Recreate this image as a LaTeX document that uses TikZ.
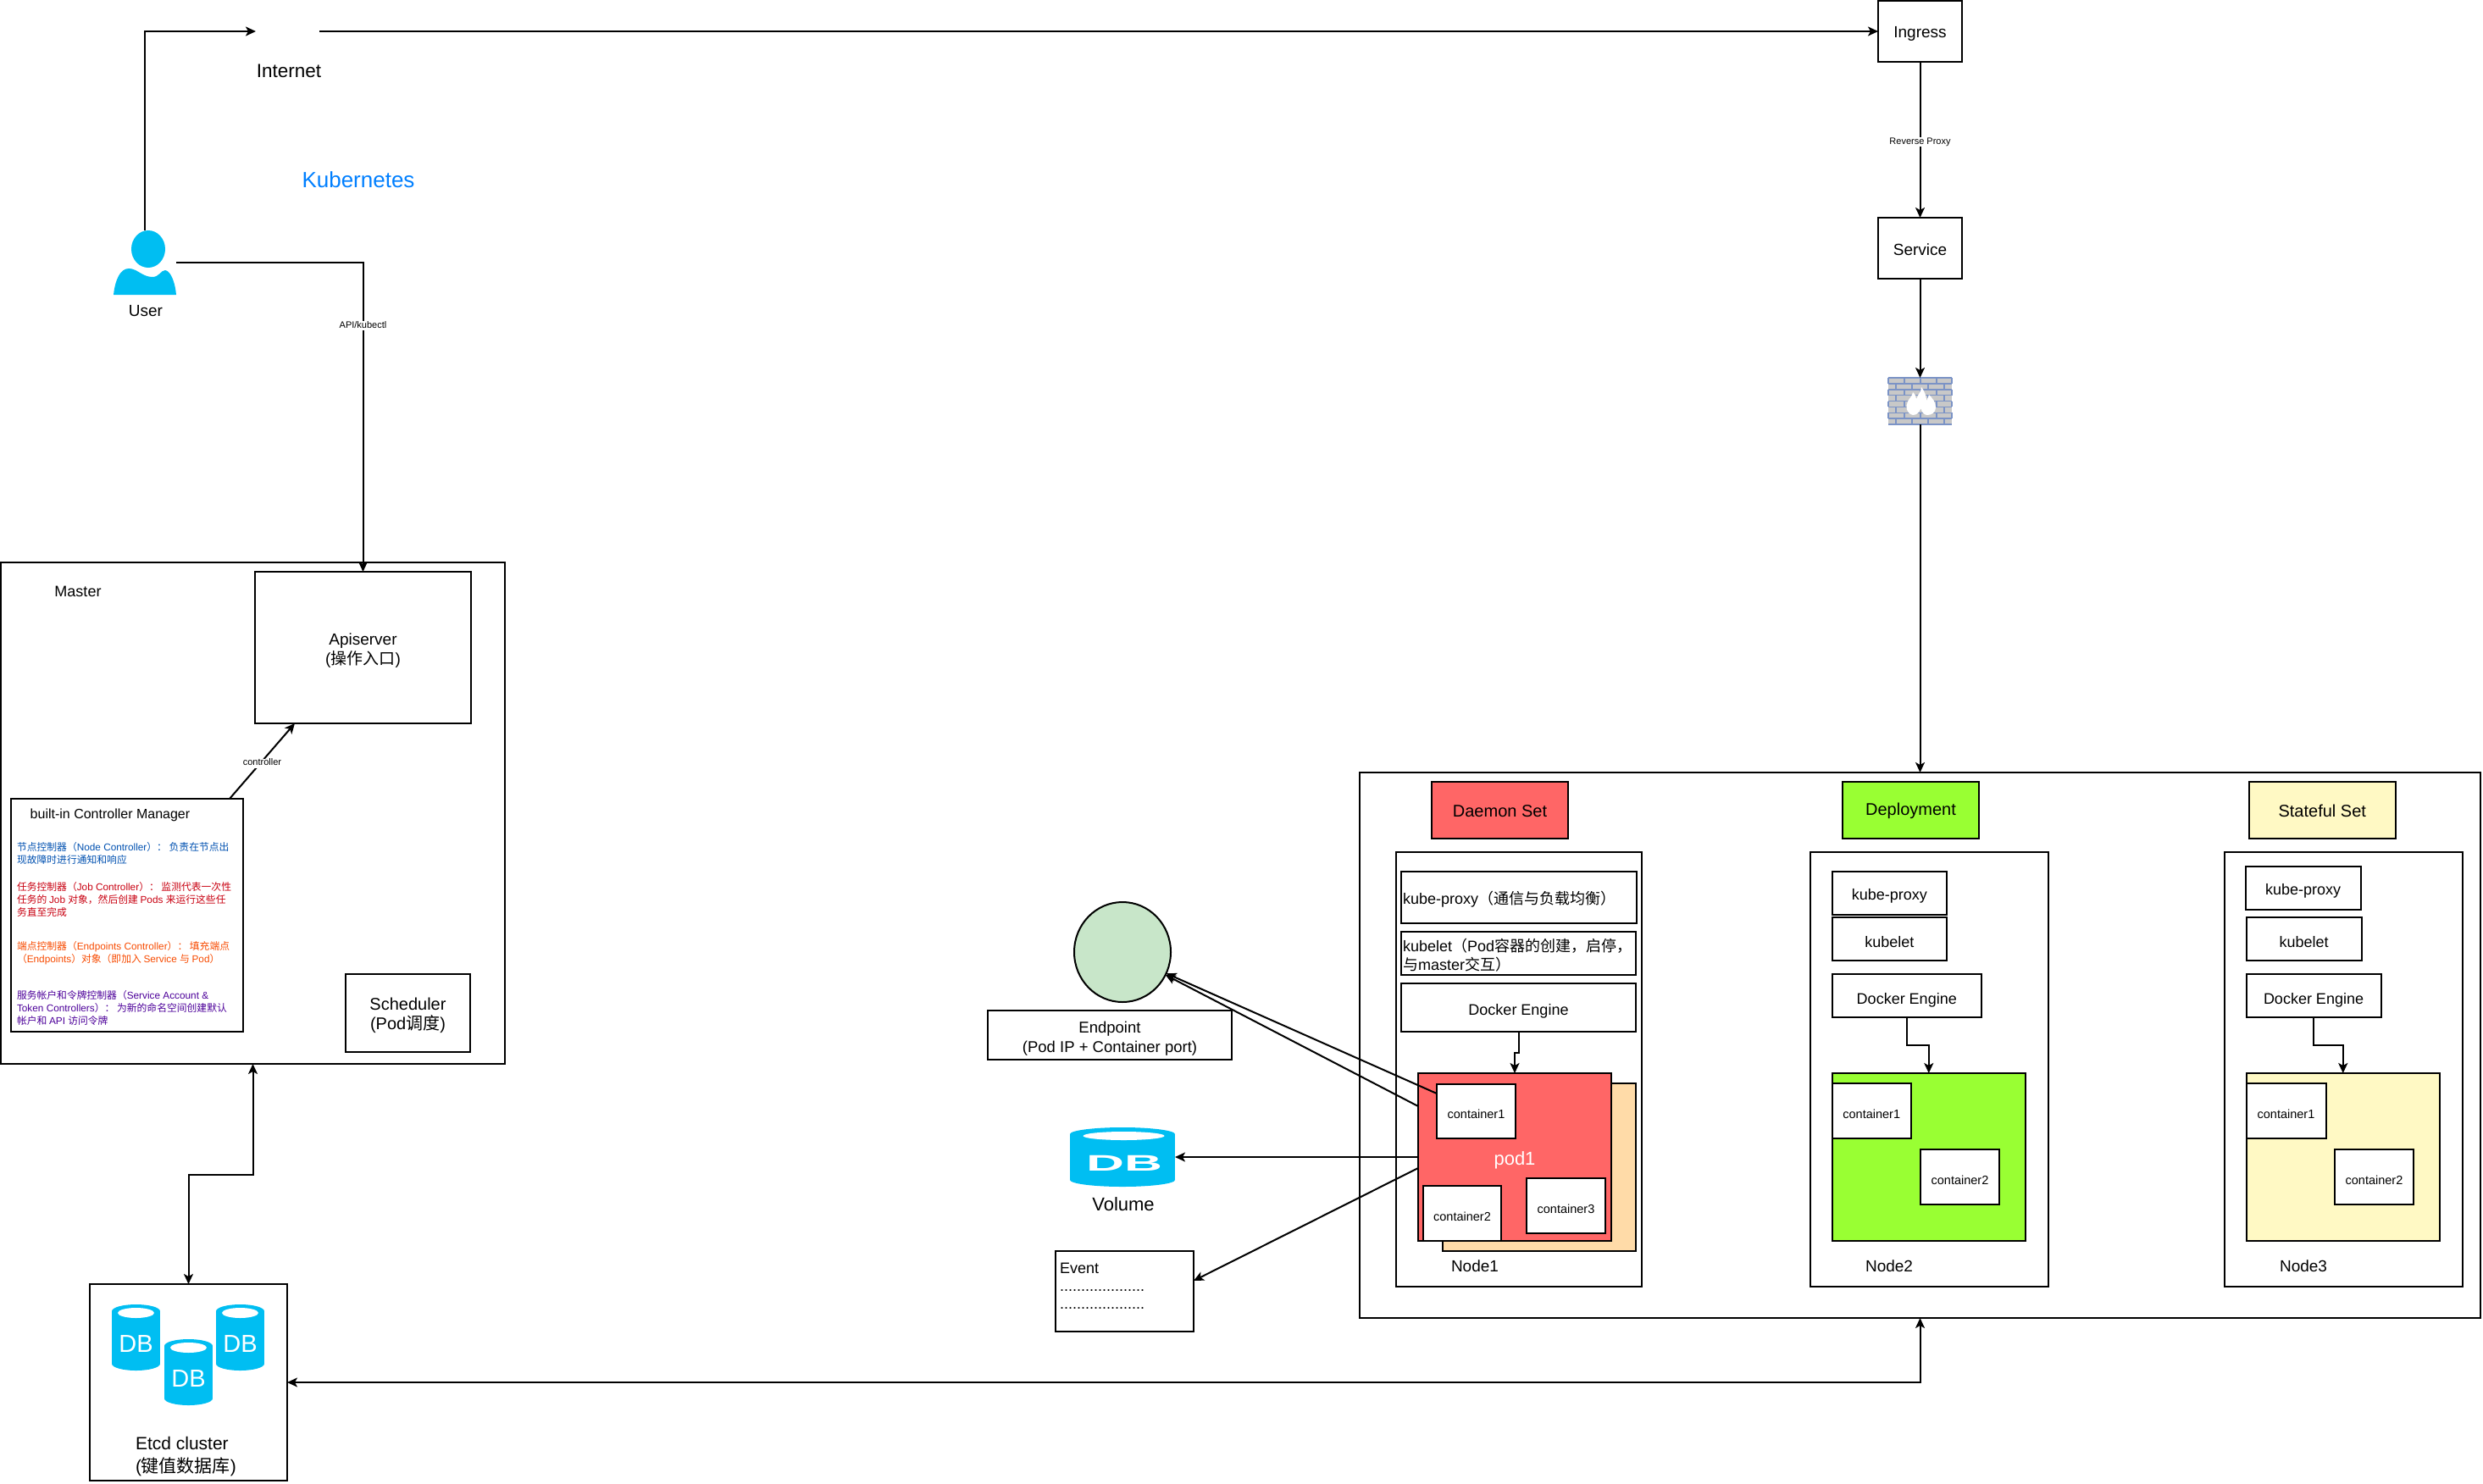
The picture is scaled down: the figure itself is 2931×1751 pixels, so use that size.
\documentclass[tikz,border=0pt]{standalone}
\usepackage{fontspec}
\setmainfont{Liberation Sans}
\newfontfamily\cjkfont{Noto Sans CJK SC}
\newcommand{\zh}[1]{{\cjkfont #1}}
\usetikzlibrary{arrows.meta,calc}
\usetikzlibrary{shapes.geometric}
\definecolor{dbblue}{HTML}{00BEF2}
\definecolor{podred}{HTML}{FF6666}
\definecolor{podgreen}{HTML}{99FF33}
\definecolor{podyellow}{HTML}{FFF9C4}
\definecolor{podpeach}{HTML}{FFDBA8}
\definecolor{epgreen}{HTML}{C8E6C9}
\definecolor{brickline}{HTML}{7B93C6}
\definecolor{brickfill}{HTML}{C8C8C8}
\definecolor{titleblue}{HTML}{007FFF}
\definecolor{nodeblue}{HTML}{0050B0}
\definecolor{jobred}{HTML}{C80010}
\definecolor{eporange}{HTML}{F74A00}
\definecolor{sapurple}{HTML}{4C0099}
\begin{document}
\begin{tikzpicture}[
   x=1pt,y=-1pt,
   line width=2pt,
   >={Stealth[length=12pt,width=11pt,inset=3pt]},
   fs/.style={font=\fontsize{#1}{22}\selectfont},
   sz/.style n args={2}{minimum width=#1pt,minimum height=#2pt},
   strutted/.style={execute at begin node={\rule{0pt}{\dimexpr#1em+.3\baselineskip\relax}}},
   strutted/.default=.74,
   plainbox/.style={draw,rectangle,inner sep=0pt,outer sep=0pt,fs=19,align=center},
   box/.style={plainbox,strutted},
   setbox/.style={plainbox,fs=20,strutted=.46},
   leftbox/.style={box,align=left,text width=#1pt,inner xsep=2pt},
   container/.style={box,fill=white,fs=14.5},
   lbl/.style={inner sep=0pt,fs=19,align=center,strutted},
   dblbl/.style={inner sep=0pt,text=white,fs=#1},
   ghost/.style={rectangle,inner sep=0pt,outer sep=0pt},
   edgetxt/.style={fill=white,inner sep=0pt,yshift=-2.5pt,font=\fontsize{11}{13}\selectfont,execute at begin node={\rule[-.26em]{0pt}{1em}}},
   ctrltxt/.style={inner sep=0pt,anchor=west,align=left,font=\fontsize{11.8}{15}\selectfont,text=#1},
   conn/.style={draw,->}
  ]
  \useasboundingbox (0,0) rectangle (2931,1751);

  % user and internet
  \node [ghost,sz={74}{76}] (user) at (171,310) {};
  \fill [dbblue] (175,294) ellipse [x radius=20,y radius=22];
  \fill [dbblue] (134,348) .. controls (136,330) and (142,317) .. (152,317)
     .. controls (162,317) and (168,327) .. (180,327)
     .. controls (188,327) and (190,319) .. (195,319)
     .. controls (202,320) and (207,335) .. (208,348) -- cycle;
  \node [lbl] (userlabel) at (172,363.5) {User};
  \node [ghost,sz={75}{40}] (internet) at (339.5,37) {};
  \node [lbl,fs=22.5] (internetlabel) at (341,79.5) {Internet};
  \node [lbl,fs=26,text=titleblue] (title) at (423,208.5) {Kubernetes};

  % master
  \node [box,sz={595}{592}] (master) at (298.5,960) {};
  \node [lbl,fs=18] (masterlabel) at (92,695) {Master};
  \node [box,sz={255}{179}] (api) at (428.5,764.5) {};
  \node [lbl] (apitext) at (428.5,768.5) {Apiserver\\[1pt](\zh{操作入口})};
  \node [box,sz={274}{275}] (ctrl) at (150,1080.5) {};
  \node [box,sz={147}{92}] (sched) at (481.5,1196) {};
  \node [lbl,fs=20] (schedtext) at (481.5,1198.5) {Scheduler\\[1pt](Pod\zh{调度})};
  \node [lbl,fs=16] (ctrllabel) at (130,959) {built-in Controller Manager};
  \node [ctrltxt=nodeblue] (ctrlnode) at (19,1007)
     {\zh{节点控制器（}Node Controller\zh{）： 负责在节点出}\\\zh{现故障时进行通知和响应}};
  \node [ctrltxt=jobred] (ctrljob) at (19,1062)
     {\zh{任务控制器（}Job Controller\zh{）： 监测代表一次性}\\\zh{任务的 }Job \zh{对象，然后创建 }Pods \zh{来运行这些任}\\\zh{务直至完成}};
  \node [ctrltxt=eporange] (ctrlep) at (19,1125.5)
     {\zh{端点控制器（}Endpoints Controller\zh{）： 填充端点}\\\zh{（}Endpoints\zh{）对象（即加入 }Service \zh{与 }Pod\zh{）}};
  \node [ctrltxt=sapurple] (ctrlsa) at (19,1190)
     {\zh{服务帐户和令牌控制器（}Service Account \&\\Token Controllers\zh{）： 为新的命名空间创建默认}\\\zh{帐户和 }API \zh{访问令牌}};

  % etcd
  \node [box,sz={233}{232}] (etcd) at (222.5,1632) {};
  \foreach \dbx/\dby in {160.5/1540,283.5/1540,222.5/1581}{
     \fill [dbblue] (\dbx-28.5,\dby+8) rectangle (\dbx+28.5,\dby+70);
     \fill [dbblue] (\dbx,\dby+8) ellipse [x radius=28.5,y radius=8];
     \fill [dbblue] (\dbx,\dby+70) ellipse [x radius=28.5,y radius=8];
     \fill [white] (\dbx,\dby+10) ellipse [x radius=21.5,y radius=6];
     \node [dblbl=29] at (\dbx,\dby+47) {DB};
  }
  \node [lbl,fs=21,anchor=west,align=left] (etcdlabel) at (159,1719.5) {Etcd cluster\\[5pt](\zh{键值数据库})};

  % ingress side
  \node [plainbox,strutted=.6,sz={99}{72}] (ingress) at (2266.5,37) {Ingress};
  \node [plainbox,strutted=.6,sz={99}{72}] (service) at (2266.5,293) {Service};
  \node [ghost,sz={75}{55}] (firewall) at (2266.5,473.5) {};
  \fill [brickfill] (2229,446) rectangle (2304,501);
  \foreach \row in {0,...,8}
     \draw [brickline,line width=1.5pt] (2229,446+\row*6.875) -- (2304,446+\row*6.875);
  \foreach \row in {0,2,4,6}{
     \foreach \col in {2229,2248,2267,2286,2304}
        \draw [brickline,line width=1.5pt] (\col,446+\row*6.875) -- (\col,446+\row*6.875+6.875);
     \foreach \col in {2238,2257,2276,2295}
        \draw [brickline,line width=1.5pt] (\col,446+\row*6.875+6.875) -- (\col,446+\row*6.875+13.75);
  }
  \fill [white] (2258,490) .. controls (2250,488) and (2249,480) .. (2252,474)
     .. controls (2254,470) and (2257,468) .. (2258,463)
     .. controls (2261,466) and (2262,469) .. (2262,471)
     .. controls (2264,466) and (2268,462) .. (2268,457)
     .. controls (2272,462) and (2274,468) .. (2274,473)
     .. controls (2275,471) and (2276,469) .. (2277,466)
     .. controls (2281,470) and (2285,475) .. (2285,481)
     .. controls (2285,487) and (2280,490) .. (2275,490)
     .. controls (2271,490) and (2268,486) .. (2267.5,482)
     .. controls (2266,486) and (2263,490) .. (2258,490) -- cycle;

  % cluster
  \node [box,sz={1323}{644}] (cluster) at (2266.5,1234) {};
  \node [setbox,sz={161}{67},fill=podred] (daemon) at (1770.5,956.5) {Daemon Set};
  \node [setbox,sz={161}{67},fill=podgreen] (deploy) at (2255.5,956.5) {Deployment};
  \node [setbox,sz={172.5}{67},fill=podyellow] (stateful) at (2741.25,956.5) {Stateful Set};

  % node1
  \node [box,sz={290}{513}] (nodeone) at (1793,1262.5) {};
  \node [leftbox=274,minimum height=61pt,fs=18] (proxyone) at (1793,1059.5) {kube-proxy\zh{（通信与负载均衡）}};
  \node [leftbox=273,minimum height=51pt,fs=18] (letone) at (1792.5,1125.5) {kubelet\zh{（}Pod\zh{容器的创建，启停，}\\\zh{与}master\zh{交互）}};
  \node [box,strutted=.8,sz={277}{57},fs=18] (dockerone) at (1792.5,1189.5) {Docker Engine};
  \node [box,sz={228}{198},fill=podpeach,line width=1.5pt] (podback) at (1817,1378) {};
  \node [box,sz={228}{198},fill=podred,text=white,fs=22] (podone) at (1788,1366) {pod1};
  \node [container,sz={93}{64}] (conaone) at (1742.5,1312) {container1};
  \node [container,sz={92}{65}] (conbone) at (1726,1432.5) {container2};
  \node [container,sz={93}{65}] (concone) at (1848.5,1423.5) {container3};
  \node [lbl] (nodeonelabel) at (1741,1491.5) {Node1};

  % node2
  \node [box,sz={280.5}{513}] (nodetwo) at (2277.25,1262.5) {};
  \node [box,sz={135.5}{51},fs=18] (proxytwo) at (2230.25,1054.5) {kube-proxy};
  \node [box,sz={135.5}{51},fs=18] (lettwo) at (2230.25,1108.5) {kubelet};
  \node [box,strutted=.94,sz={176.5}{51},fs=18] (dockertwo) at (2250.75,1175.5) {Docker Engine};
  \node [box,sz={228.5}{198},fill=podgreen] (podtwo) at (2276.75,1366) {};
  \node [container,sz={93.5}{65}] (conatwo) at (2209.25,1311.5) {container1};
  \node [container,sz={93}{65}] (conbtwo) at (2313.5,1389.5) {container2};
  \node [lbl] (nodetwolabel) at (2230,1491.5) {Node2};

  % node3
  \node [box,sz={281}{513}] (nodethree) at (2766.5,1262.5) {};
  \node [box,sz={136}{51},fs=18] (proxythree) at (2718.5,1048.5) {kube-proxy};
  \node [box,sz={136}{51},fs=18] (letthree) at (2719.5,1108.5) {kubelet};
  \node [box,strutted=.94,sz={159}{51},fs=18] (dockerthree) at (2731,1175.5) {Docker Engine};
  \node [box,sz={228.5}{198},fill=podyellow] (podthree) at (2765.75,1366) {};
  \node [container,sz={94}{65}] (conathree) at (2698.5,1311.5) {container1};
  \node [container,sz={93}{65}] (conbthree) at (2802.5,1389.5) {container2};
  \node [lbl] (nodethreelabel) at (2719,1491.5) {Node3};

  % endpoint, volume, event
  \node [draw,ellipse,fill=epgreen,inner sep=0pt,outer sep=0pt,sz={114}{118}] (epcircle) at (1325,1124) {};
  \node [box,sz={288}{58}] (epbox) at (1310,1222) {};
  \node [lbl,fs=18.5] (eptext) at (1310,1226) {Endpoint\\[1pt](Pod IP + Container port)};
  \node [ghost,sz={124}{70}] (volume) at (1325,1366) {};
  \fill [dbblue] (1263,1339) rectangle (1387,1393);
  \fill [dbblue] (1325,1339) ellipse [x radius=62,y radius=8];
  \fill [dbblue] (1325,1393) ellipse [x radius=62,y radius=8];
  \fill [white] (1326.5,1341) ellipse [x radius=48,y radius=5];
  \node [dblbl=26.5] at (1327,1373) {\scalebox{2.35}[1]{\textbf{DB}}};
  \node [lbl,fs=22] (volumelabel) at (1326,1418) {Volume};
  \node [box,sz={163}{95}] (eventbox) at (1327.5,1524.5) {};
  \node [inner sep=0pt,anchor=west,align=left,font=\fontsize{18}{21}\selectfont] (eventtxt) at (1250,1518) {Event\\....................\\....................};

  % connectors
  \draw [conn] (user.north) |- (internet.west);
  \draw [conn] (internet.east) -- (ingress.west);
  \draw [conn] (user.east) -| (api.north) node [edgetxt,pos=0.599] (apilabel) {API/kubectl};
  \draw [conn] (ingress.south) -- (service.north) node [edgetxt,midway] (proxylabel) {Reverse Proxy};
  \draw [conn] (service.south) -- (firewall.north);
  \draw [conn] (firewall.south) -- (firewall.south |- cluster.north);
  \draw [conn] ([xshift=-16pt]ctrl.north east) -- ([xshift=-80.5pt]api.south) node [edgetxt,midway] (ctrlarrow) {controller};
  \draw [<->] (master.south) -- ++(0,131) -| (etcd.north);
  \draw [<->] (etcd.east) -| (cluster.south);
  \draw [conn] (dockerone.south) -- ++(0,25) -| (podone.north);
  \draw [conn] (dockertwo.south) -- ++(0,33) -| (podtwo.north);
  \draw [conn] (dockerthree.south) -- ++(0,33) -| (podthree.north);
  \draw [conn] ([yshift=21pt]conaone.west) -- (epcircle.-26);
  \draw [conn] ([yshift=60pt]podone.west) -- (epcircle.-28);
  \draw [conn] (podone.west) -- (volume.east);
  \draw [conn] ([yshift=-13pt]podone.west) -- ([yshift=12.5pt]eventbox.east);
\end{tikzpicture}
\end{document}
